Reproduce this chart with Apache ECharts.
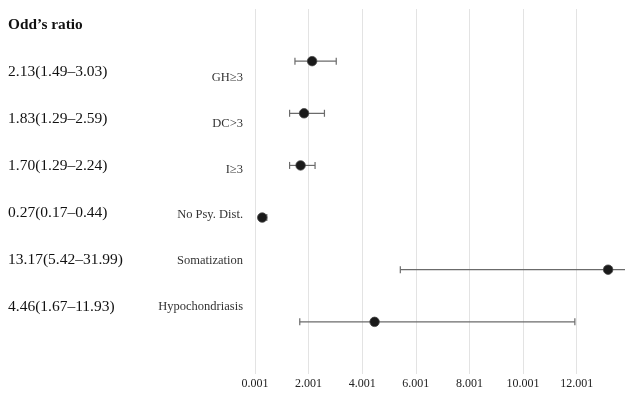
<!DOCTYPE html>
<html><head><meta charset="utf-8">
<script src="https://cdn.jsdelivr.net/npm/echarts@6/dist/echarts.min.js"></script>
<style>html,body{margin:0;padding:0;background:#fff}#c{width:625px;height:398px}</style>
</head><body><div id="c"></div>
<script>
const categories = ['GH≥3', 'DC>3', 'I≥3', 'No Psy. Dist.', 'Somatization', 'Hypochondriasis'];
const oddsRatio = [2.13, 1.83, 1.70, 0.27, 13.17, 4.46];
const ciLower = [1.49, 1.29, 1.29, 0.17, 5.42, 1.67];
const ciUpper = [3.03, 2.59, 2.24, 0.44, 31.99, 11.93];
const xTickOffset = 0.001;

const ciLabels = oddsRatio.map((v, i) => v.toFixed(2) + '(' + ciLower[i].toFixed(2) + '–' + ciUpper[i].toFixed(2) + ')');
const FONT = '"Liberation Serif", "Times New Roman", serif';

const chart = echarts.init(document.getElementById('c'));
chart.setOption({
  animation: false,
  backgroundColor: '#fff',
  title: {
    text: 'Odd’s ratio', left: 8, top: 18, padding: 0,
    textStyle: { fontFamily: FONT, fontSize: 15.3, fontWeight: 'bold', color: '#111' }
  },
  grid: [
    { left: 255, right: 0, top: 9, bottom: 24, outerBoundsMode: 'none' },
    { left: 255, width: 1, top: 54.5, height: 275.4, outerBoundsMode: 'none' },
    { left: 255, width: 1, top: 48.5, height: 282, outerBoundsMode: 'none' }
  ],
  xAxis: [
    {
      gridIndex: 0, type: 'value', min: 0, max: 13.8, interval: 2,
      axisLine: { show: false }, axisTick: { show: false },
      splitLine: { show: true, lineStyle: { color: '#e3e3e3', width: 1 } },
      axisLabel: {
        margin: 4, fontFamily: FONT, fontSize: 12, color: '#222',
        showMaxLabel: false,
        formatter: v => (v + xTickOffset).toFixed(3)
      }
    },
    { gridIndex: 1, type: 'value', show: false },
    { gridIndex: 2, type: 'value', show: false }
  ],
  yAxis: [
    { gridIndex: 0, type: 'value', min: 0, max: 7, inverse: true, show: false },
    {
      gridIndex: 1, type: 'category', data: categories, inverse: true,
      axisLine: { show: false }, axisTick: { show: false }, splitLine: { show: false },
      axisLabel: { margin: 12, fontFamily: FONT, fontSize: 12.5, color: '#333' }
    },
    {
      gridIndex: 2, type: 'category', data: ciLabels, inverse: true,
      axisLine: { show: false }, axisTick: { show: false }, splitLine: { show: false },
      axisLabel: { margin: 247, align: 'left', fontFamily: FONT, fontSize: 15.5, color: '#111' }
    }
  ],
  series: [
    {
      type: 'custom', xAxisIndex: 0, yAxisIndex: 0, clip: true,
      data: categories.map((c, i) => [ciLower[i], ciUpper[i], i + 1]),
      encode: { x: [0, 1], y: 2 },
      renderItem: function (params, api) {
        const a = api.coord([api.value(0), api.value(2)]);
        const b = api.coord([api.value(1), api.value(2)]);
        const style = { stroke: '#6b6b6b', lineWidth: 1.2 };
        const cap = 3.5;
        return {
          type: 'group',
          children: [
            { type: 'line', shape: { x1: a[0], y1: a[1], x2: b[0], y2: b[1] }, style },
            { type: 'line', shape: { x1: a[0], y1: a[1] - cap, x2: a[0], y2: a[1] + cap }, style },
            { type: 'line', shape: { x1: b[0], y1: b[1] - cap, x2: b[0], y2: b[1] + cap }, style }
          ]
        };
      }
    },
    {
      type: 'scatter', xAxisIndex: 0, yAxisIndex: 0, symbol: 'circle', symbolSize: 9.5,
      data: oddsRatio.map((v, i) => [v, i + 1]),
      itemStyle: { color: '#1a1a1a', borderColor: '#444', borderWidth: 0.8, opacity: 1 },
      z: 5
    }
  ]
});
</script></body></html>
